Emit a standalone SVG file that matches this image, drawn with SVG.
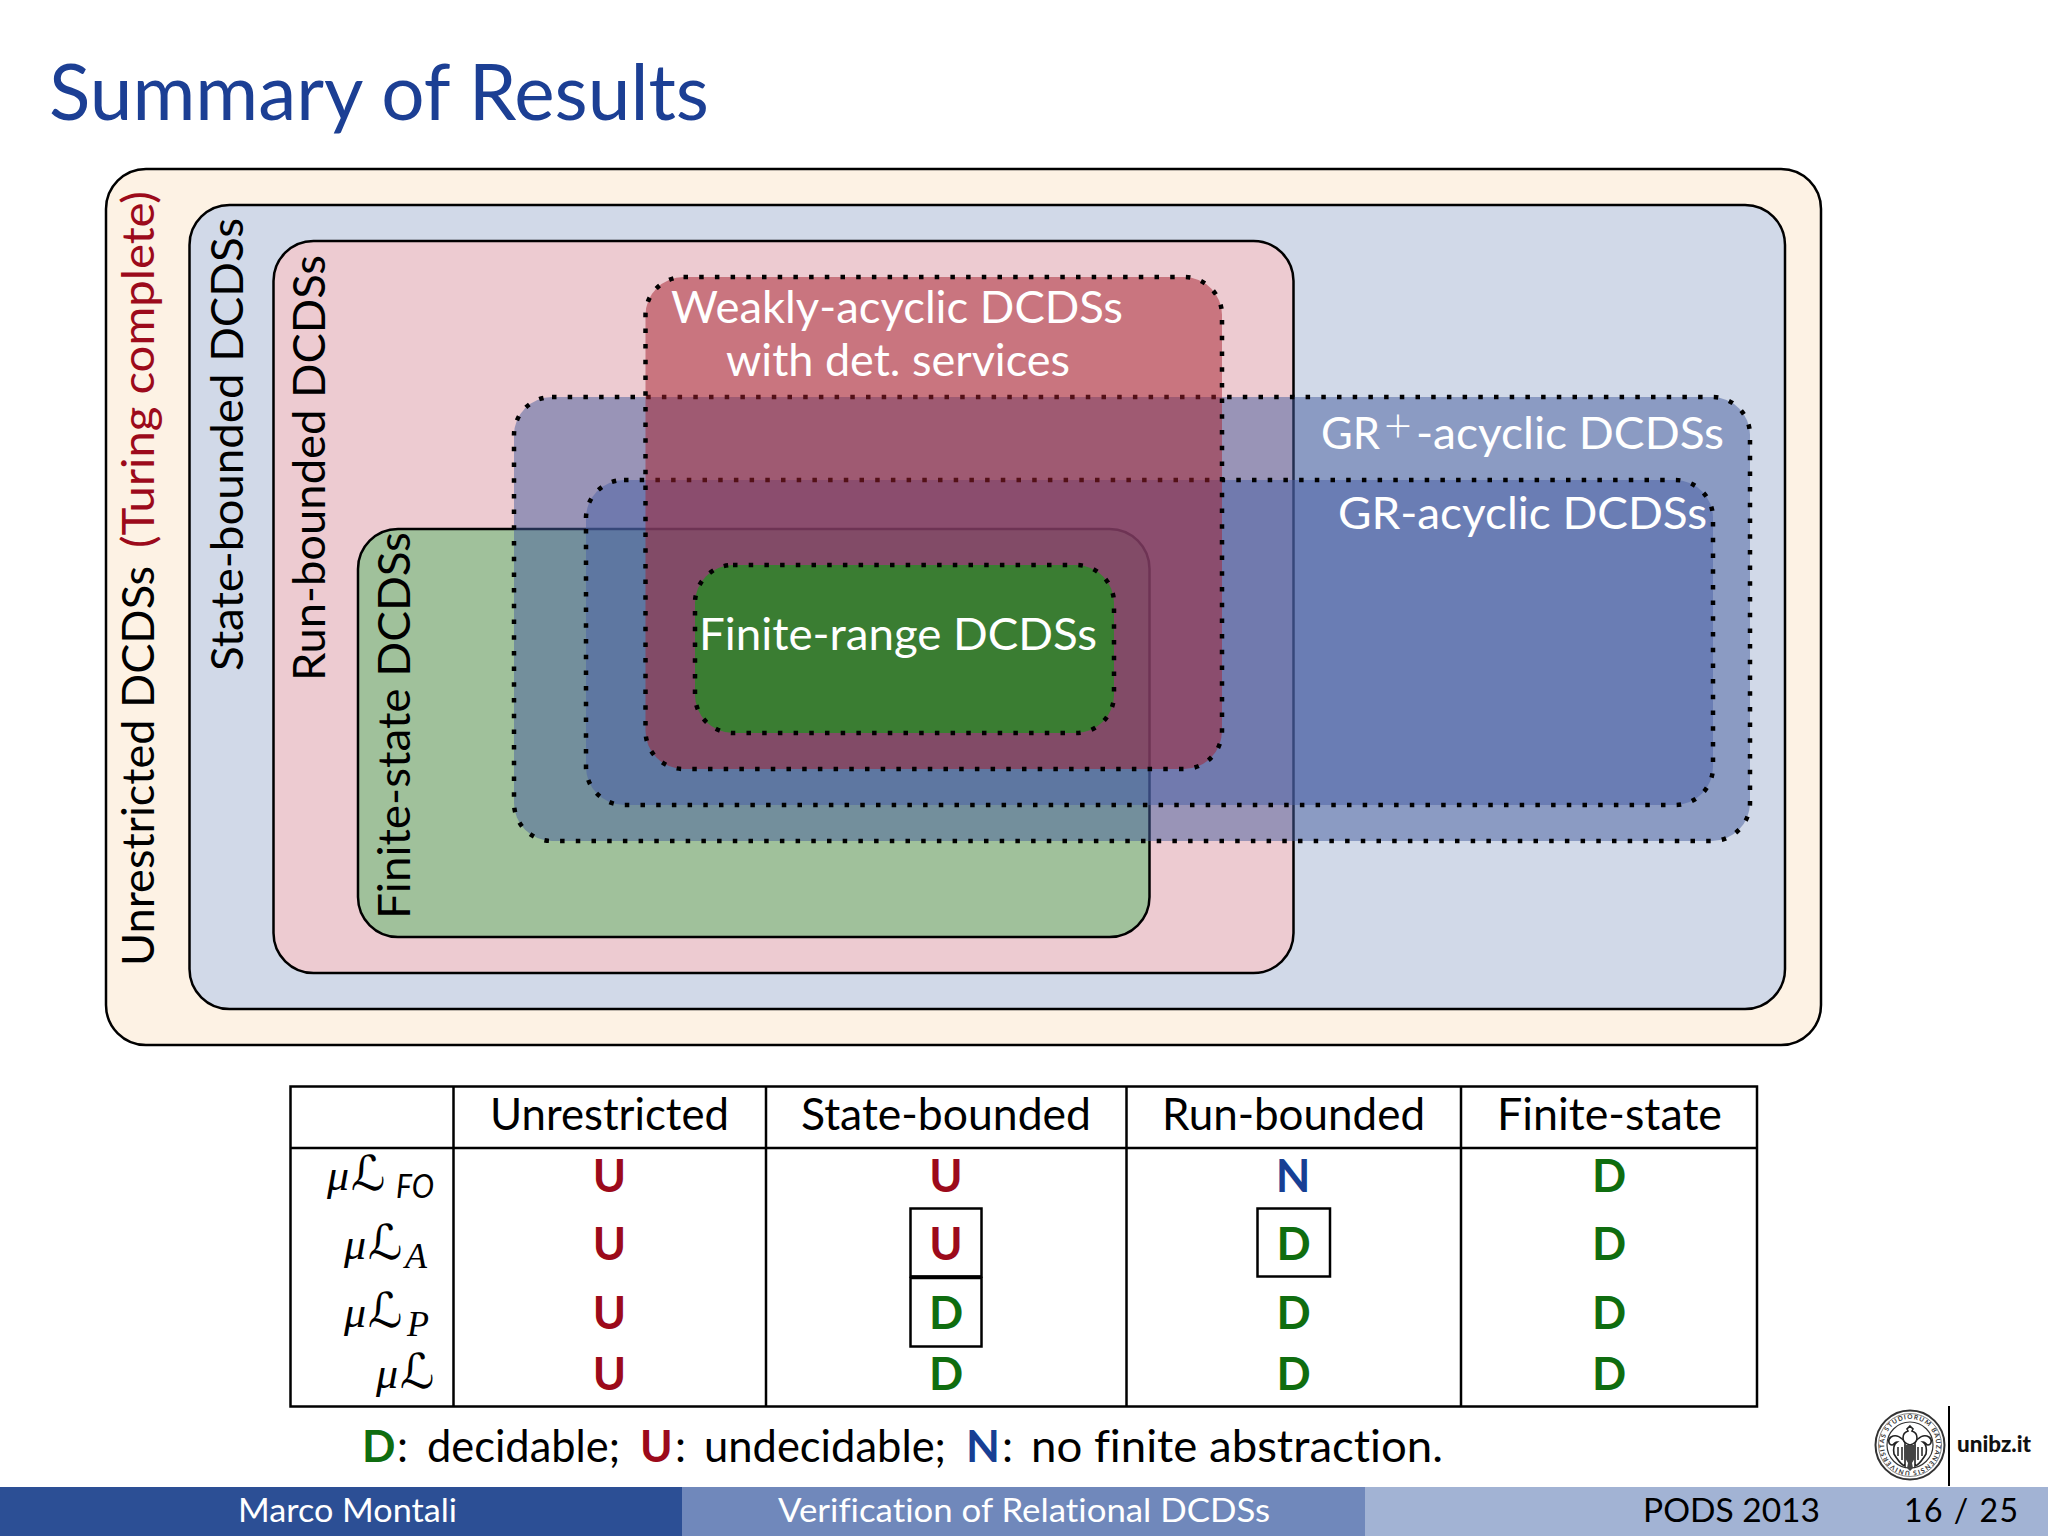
<svg xmlns="http://www.w3.org/2000/svg" width="2048" height="1536" viewBox="0 0 2048 1536">
<style>
text{font-family:Lato,"Open Sans","DejaVu Sans",sans-serif;font-size:44px;fill:#000;font-variant-ligatures:none}
.w{fill:#fff}
.solid{stroke:#000;stroke-width:2.500}
.dot{stroke:#000;stroke-width:4.500;stroke-dasharray:4.500 11.200}
.c{font-weight:700;text-anchor:middle;font-size:45px}
.r{fill:#9c0a1b}.g{fill:#0f6d0f}.n{fill:#173f94}
.m{font-family:"Liberation Serif","DejaVu Serif",serif;font-style:italic;font-size:44px}
.sc{font-family:"DejaVu Sans",sans-serif;font-size:48px}
.sub{font-size:32px;font-style:italic}
.subm{font-family:"Liberation Serif",serif;font-size:36px;font-style:italic}
.line{fill:none;stroke:#000;stroke-width:2.500}
.ft{font-size:32px}
.seal{font-size:6.500px;font-weight:700;fill:#333}
.e{fill:#fff;stroke:#222;stroke-width:1.600}
</style>
<rect width="2048" height="1536" fill="#fff"/>
<g id="title"><text x="49" y="120" textLength="660" lengthAdjust="spacingAndGlyphs" style="font-size:78px;fill:#1c3f94">Summary of Results</text></g>
<g id="unrestricted"><rect x="106" y="169" width="1715" height="876" rx="40" fill="#fdf2e4" class="solid"/>
<text transform="translate(154,966) rotate(-90)" textLength="400" lengthAdjust="spacingAndGlyphs">Unrestricted DCDSs</text>
<text transform="translate(154,548) rotate(-90)" textLength="357" lengthAdjust="spacingAndGlyphs" class="r">(Turing complete)</text></g>
<g id="state-bounded"><rect x="189.500" y="205" width="1595.500" height="804" rx="40" fill="#d1d9e8" class="solid"/>
<text transform="translate(243,671) rotate(-90)" textLength="453" lengthAdjust="spacingAndGlyphs">State-bounded DCDSs</text></g>
<g id="run-bounded"><rect x="273.500" y="241" width="1020" height="732" rx="40" fill="#edcbd1" class="solid"/>
<text transform="translate(325,681) rotate(-90)" textLength="426" lengthAdjust="spacingAndGlyphs">Run-bounded DCDSs</text></g>
<g id="finite-state"><rect x="358" y="529" width="791.500" height="408" rx="40" fill="#53b765" fill-opacity=".5" class="solid"/>
<text transform="translate(410,919) rotate(-90)" textLength="387" lengthAdjust="spacingAndGlyphs">Finite-state DCDSs</text></g>
<g id="gr-plus-acyclic"><rect x="514" y="397" width="1236" height="444" rx="38" fill="#455d9e" fill-opacity=".5" class="dot"/>
<text class="w" x="1321" y="448.500" textLength="59" lengthAdjust="spacingAndGlyphs">GR</text><text class="w" x="1384" y="442" style="font-size:48px;font-weight:300">+</text><text class="w" x="1416" y="448.500" textLength="308" lengthAdjust="spacingAndGlyphs">-acyclic DCDSs</text></g>
<g id="gr-acyclic"><rect x="586" y="480" width="1127" height="325" rx="38" fill="#495fa5" fill-opacity=".5" class="dot"/>
<text class="w" x="1338" y="529" textLength="369" lengthAdjust="spacingAndGlyphs">GR-acyclic DCDSs</text></g>
<g id="weakly-acyclic"><rect x="645.500" y="277" width="576.500" height="492" rx="38" fill="#a51f2e" fill-opacity=".5" class="dot"/>
<text class="w" x="671" y="322.500" textLength="452" lengthAdjust="spacingAndGlyphs">Weakly-acyclic DCDSs</text>
<text class="w" x="726" y="376" textLength="344" lengthAdjust="spacingAndGlyphs">with det. services</text></g>
<g id="finite-range"><rect x="695" y="565" width="419" height="168" rx="38" fill="#3a7d32" class="dot"/>
<text class="w" x="699" y="649.500" textLength="398" lengthAdjust="spacingAndGlyphs">Finite-range DCDSs</text></g>
<g id="table">
<path class="line" d="M290.500 1086.500H1757V1406.500H290.500ZM290.500 1148H1757M453.500 1086V1406M766 1086V1406M1126.500 1086V1406M1461 1086V1406"/>
<text x="490" y="1130" textLength="239" lengthAdjust="spacingAndGlyphs">Unrestricted</text>
<text x="801" y="1130" textLength="290" lengthAdjust="spacingAndGlyphs">State-bounded</text>
<text x="1162" y="1130" textLength="263" lengthAdjust="spacingAndGlyphs">Run-bounded</text>
<text x="1497" y="1130" textLength="225" lengthAdjust="spacingAndGlyphs">Finite-state</text>
<text x="327" y="1190" class="m">μ</text><text x="351" y="1190" class="sc">ℒ</text><text x="396" y="1198" class="sub" textLength="38" lengthAdjust="spacingAndGlyphs">FO</text>
<text x="344" y="1259" class="m">μ</text><text x="368" y="1259" class="sc">ℒ</text><text x="405" y="1268" class="subm">A</text>
<text x="344" y="1327" class="m">μ</text><text x="368" y="1327" class="sc">ℒ</text><text x="407" y="1336" class="subm">P</text>
<text x="376" y="1388" class="m">μ</text><text x="400" y="1388" class="sc">ℒ</text>
<text x="609.500" y="1191.500" class="c r">U</text><text x="946" y="1191.500" class="c r">U</text><text x="1293" y="1191.500" class="c n">N</text><text x="1609" y="1191.500" class="c g">D</text>
<text x="609.500" y="1260" class="c r">U</text><text x="946" y="1260" class="c r">U</text><text x="1293.500" y="1260" class="c g">D</text><text x="1609" y="1260" class="c g">D</text>
<text x="609.500" y="1329" class="c r">U</text><text x="946" y="1329" class="c g">D</text><text x="1293.500" y="1329" class="c g">D</text><text x="1609" y="1329" class="c g">D</text>
<text x="609.500" y="1389.500" class="c r">U</text><text x="946" y="1389.500" class="c g">D</text><text x="1293.500" y="1389.500" class="c g">D</text><text x="1609" y="1389.500" class="c g">D</text>
<rect class="line" x="910.500" y="1208.500" width="71" height="68"/><rect class="line" x="910.500" y="1278" width="71" height="68.500"/><rect x="910" y="1275.500" width="72" height="3"/><rect class="line" x="1257.500" y="1208.500" width="72.500" height="68"/>
</g>
<g id="legend">
<text x="362" y="1461.500" class="g" style="font-weight:700">D</text>
<text x="397" y="1461.500">:</text><text x="427" y="1461.500" textLength="193" lengthAdjust="spacingAndGlyphs">decidable;</text>
<text x="640" y="1461.500" class="r" style="font-weight:700">U</text>
<text x="675" y="1461.500">:</text><text x="704" y="1461.500" textLength="242" lengthAdjust="spacingAndGlyphs">undecidable;</text>
<text x="966" y="1461.500" class="n" style="font-weight:700">N</text>
<text x="1002" y="1461.500">:</text><text x="1031" y="1461.500" textLength="412" lengthAdjust="spacingAndGlyphs">no finite abstraction.</text>
</g>
<g id="logo">
<defs><path id="ring" d="M1910 1471a26 26 0 1 1 .1 0"/></defs>
<circle cx="1910" cy="1445" r="34.500" fill="#fff" stroke="#333" stroke-width="2"/><circle cx="1910" cy="1445" r="31.500" fill="none" stroke="#666" stroke-width=".8"/><circle cx="1910" cy="1445" r="23" fill="none" stroke="#333" stroke-width="1.200"/>
<text class="seal"><textPath href="#ring" textLength="160">UNIVERSITAS STUDIORUM BAUZANENSIS</textPath></text>
<path class="e" d="M1905 1443c-3-6-9-9-14-6-4 3-2 8 1 8 2 0 2-3 5-3-3 2-4 6-3 12 3 5 6 9 9 11l2 1zM1915 1443c3-6 9-9 14-6 4 3 2 8-1 8-2 0-2-3-5-3 3 2 4 6 3 12-3 5-6 9-9 11l-2 1z"/>
<path d="M1898 1447v9M1902 1447v13M1922 1447v9M1918 1447v13" stroke="#222" stroke-width="1.500"/>
<path class="e" d="M1910 1426l3 3-1 2c3 1 5 4 5 7 0 3-3 6-7 7-4-1-7-4-7-7 0-3 2-6 5-7l-1-2z"/>
<path d="M1904 1445h12l-1 13-3 5 1 5-3 3-3-3 1-5-3-5z" fill="#444"/>
<path d="M1949 1406V1486" stroke="#000" stroke-width="2"/>
<text x="1957" y="1452" textLength="74" lengthAdjust="spacingAndGlyphs" style="font-size:22px;font-weight:900;fill:#111">unibz.it</text>
</g>
<g id="footer">
<rect y="1487" width="682" height="49" fill="#2c4f95"/><rect x="682" y="1487" width="683" height="49" fill="#7088bb"/><rect x="1365" y="1487" width="683" height="49" fill="#a2b3d4"/>
<text class="ft w" x="238" y="1521.500" textLength="219" lengthAdjust="spacingAndGlyphs">Marco Montali</text>
<text class="ft w" x="778" y="1521.500" textLength="492" lengthAdjust="spacingAndGlyphs">Verification of Relational DCDSs</text>
<text class="ft" x="1643" y="1521.500" textLength="177" lengthAdjust="spacingAndGlyphs">PODS 2013</text>
<text class="ft" x="1904" y="1521.500" textLength="114" lengthAdjust="spacing">16 / 25</text>
</g>
</svg>
